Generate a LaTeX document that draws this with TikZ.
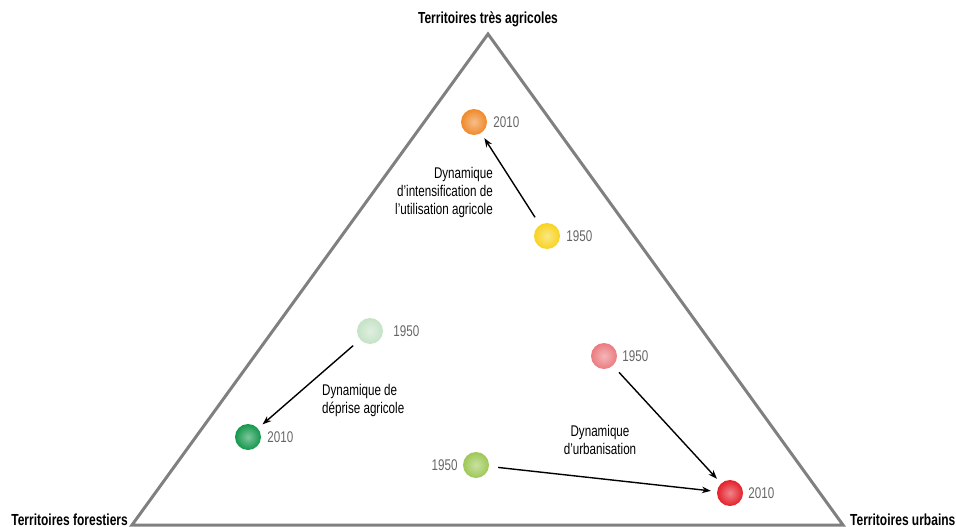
\documentclass[tikz,border=0pt]{standalone}
\usepackage{fontspec}
\setmainfont{Liberation Sans}[FakeStretch=0.75]
\usetikzlibrary{arrows.meta}
\definecolor{trigray}{HTML}{808080}
\definecolor{yrgray}{HTML}{666666}
\definecolor{corange}{HTML}{F0892A}
\definecolor{cyellow}{HTML}{F8D320}
\definecolor{cpale}{HTML}{C5E2C6}
\definecolor{cdark}{HTML}{13974B}
\definecolor{cpink}{HTML}{EB7B80}
\definecolor{cred}{HTML}{E3202A}
\definecolor{colive}{HTML}{9DC856}
\begin{document}
\begin{tikzpicture}[x=1pt,y=-1pt,
  ball/.style={circle, minimum size=26pt, inner sep=0pt, inner color=white!45!#1, outer color=#1},
  yr/.style={text=yrgray, inner sep=0pt, font=\fontsize{15.5}{18}\selectfont},
  lab/.style={inner sep=0pt, font=\fontsize{15.5}{18}\selectfont},
  corner/.style={inner sep=0pt, font=\fontsize{16}{19}\selectfont\bfseries},
  arr/.style={-{Stealth[length=9pt,width=6.5pt]}, line width=1.4pt, shorten <=9pt, shorten >=6pt}]
\useasboundingbox (0,0) rectangle (956,527);
\coordinate (A) at (488,34);
\coordinate (F) at (132,525);
\coordinate (U) at (843,525);
\draw[trigray, line width=3pt, line join=miter] (A) -- (U) -- (F) -- cycle;
\node[corner, anchor=base] (tA) at (488,24) {Territoires très agricoles};
\node[corner, anchor=base east] (tF) at (128,525) {Territoires forestiers};
\node[corner, anchor=base west] (tU) at (850,525) {Territoires urbains};

\node[ball=corange] (o10) at (474,122) {};
\node[ball=cyellow] (y50) at (547,236) {};
\node[ball=cpale] (g50) at (370,331) {};
\node[ball=cdark] (g10) at (248,437) {};
\node[ball=cpink] (p50) at (604,356) {};
\node[ball=cred] (r10) at (730,493) {};
\node[ball=colive] (v50) at (476,465) {};

\node[yr, anchor=west] (to10) at ([xshift=6pt]o10.east) {2010};
\node[yr, anchor=west] (ty50) at ([xshift=6pt]y50.east) {1950};
\node[yr, anchor=west] (tg50) at ([xshift=10pt]g50.east) {1950};
\node[yr, anchor=west] (tg10) at ([xshift=6pt]g10.east) {2010};
\node[yr, anchor=west] (tp50) at ([xshift=5pt]p50.east) {1950};
\node[yr, anchor=west] (tr10) at ([xshift=5pt]r10.east) {2010};
\node[yr, anchor=east] (tv50) at ([xshift=-5pt]v50.west) {1950};

\draw[arr] (y50) -- (o10);
\draw[arr] (g50) -- (g10);
\draw[arr] (p50) -- (r10);
\draw[arr] (v50) -- (r10);

\node[lab, align=right, anchor=east] (l1) at (493,192) {Dynamique\\d’intensification de\\l’utilisation agricole};
\node[lab, align=left, anchor=west] (l2) at (322,400) {Dynamique de\\déprise agricole};
\node[lab, align=center] (l3) at (600,440) {Dynamique\\d’urbanisation};
\end{tikzpicture}
\end{document}
